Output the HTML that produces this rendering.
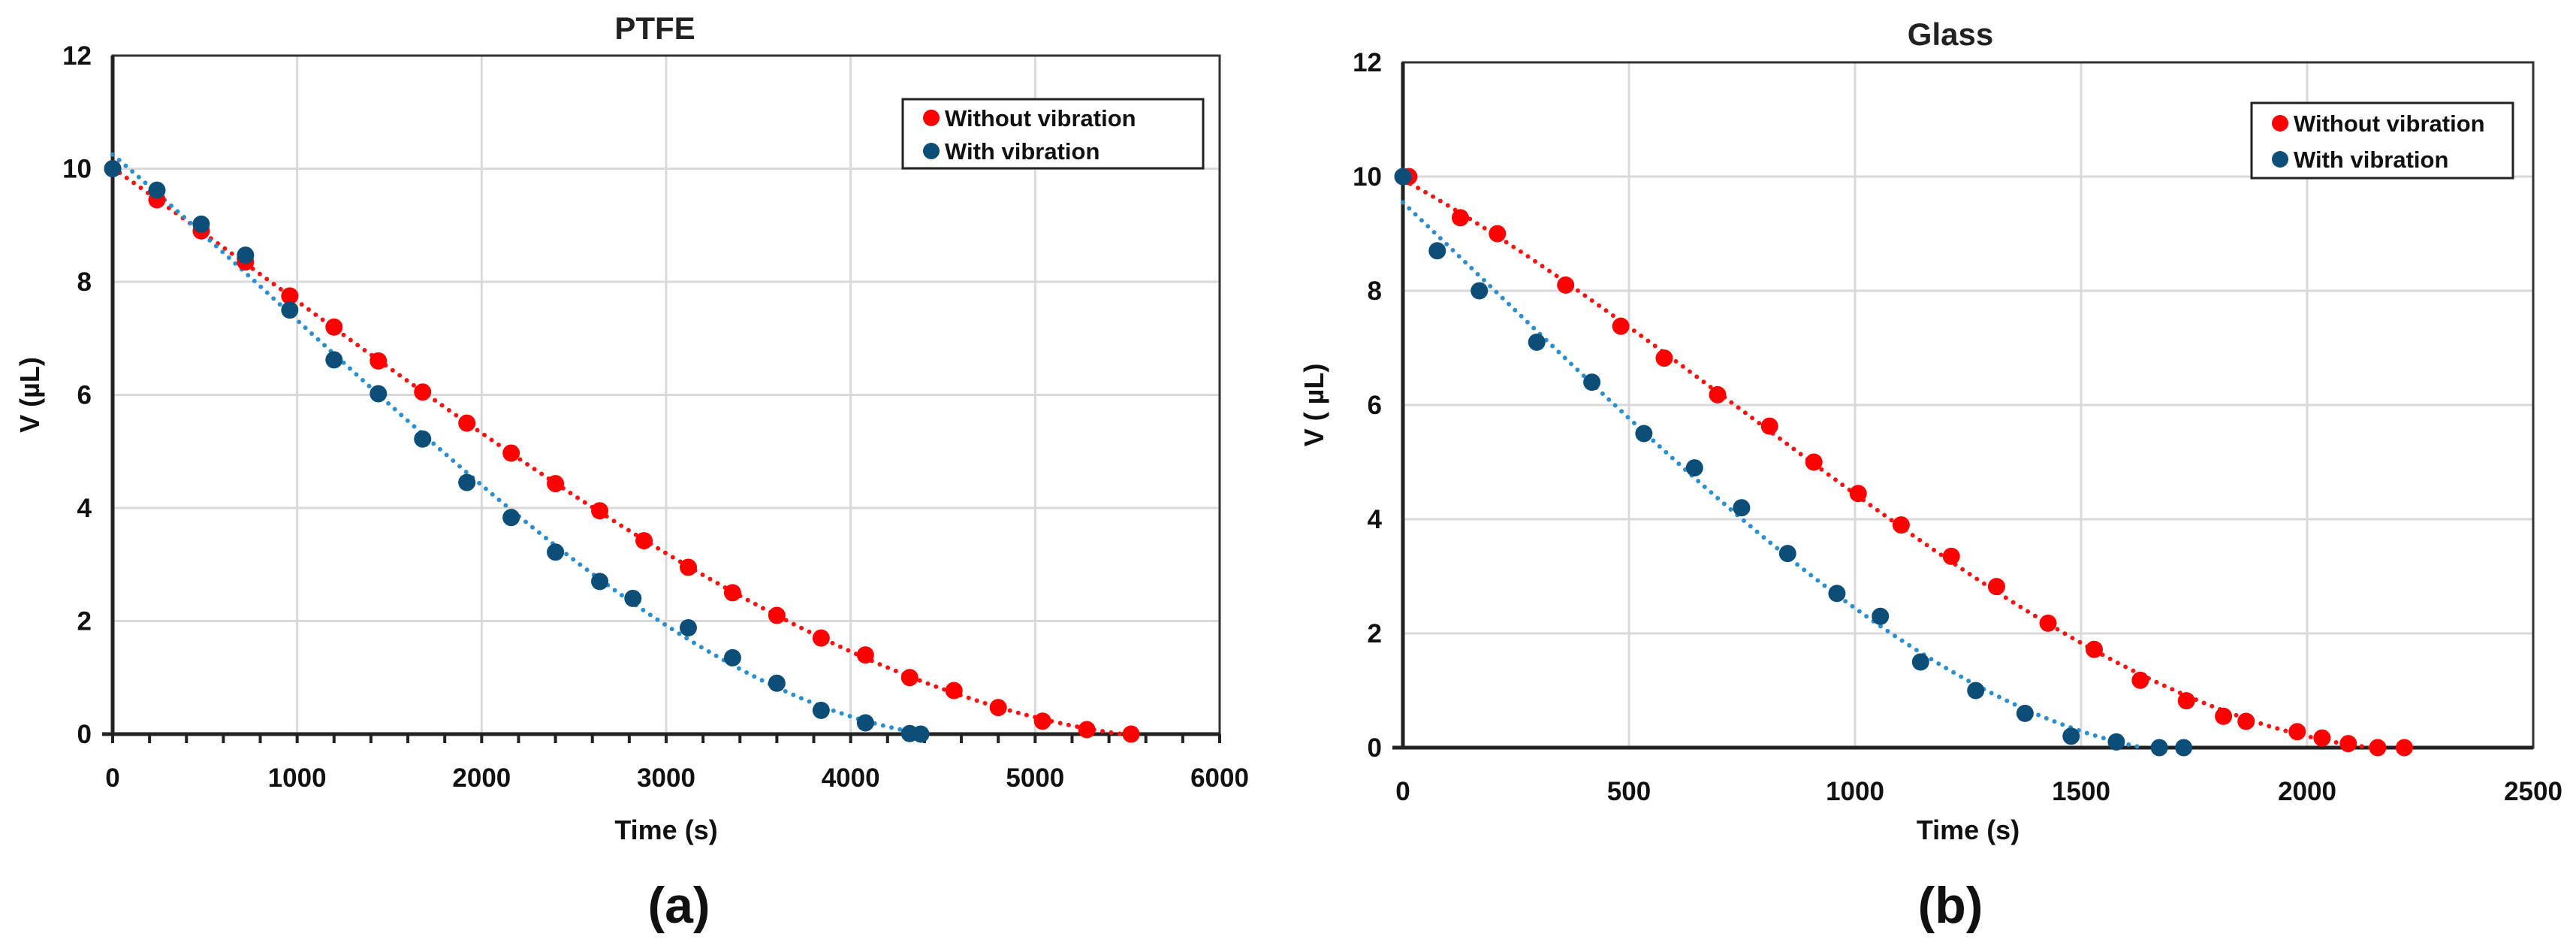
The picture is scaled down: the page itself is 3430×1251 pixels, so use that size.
<!DOCTYPE html>
<html><head><meta charset="utf-8"><style>
html,body{margin:0;padding:0;background:#fff;}
svg{display:block;font-family:"Liberation Sans",sans-serif;}
</style></head><body>
<svg id="fig" width="3430" height="1251" viewBox="0 0 3430 1251"></svg>
<script>
// PTFE (a)
const ptfeRedX=[0,240,480,720,960,1200,1440,1680,1920,2160,2400,2640,2880,3120,3360,3600,3840,4080,4320,4560,4800,5040,5280,5520];
const ptfeRedY=[10,9.45,8.9,8.35,7.75,7.2,6.6,6.05,5.5,4.97,4.43,3.95,3.42,2.95,2.5,2.1,1.7,1.4,1.0,0.77,0.47,0.23,0.08,0];
const ptfeBlueX=[0,240,480,720,960,1200,1440,1680,1920,2160,2400,2640,2820,3120,3360,3600,3840,4080,4320,4380];
const ptfeBlueY=[10,9.62,9.02,8.47,7.5,6.62,6.02,5.22,4.45,3.83,3.22,2.7,2.4,1.88,1.35,0.9,0.42,0.2,0.01,0];
const ptfeXTicks=[0,1000,2000,3000,4000,5000,6000];
const yTicks=[0,2,4,6,8,10,12];
// Glass (b)
const glassRedX=[13,127,209,360,482,578,696,811,909,1007,1102,1213,1313,1427,1529,1631,1733,1815,1865,1978,2033,2091,2156,2215];
const glassRedY=[10,9.28,9.0,8.1,7.38,6.82,6.18,5.63,5.0,4.45,3.9,3.35,2.82,2.18,1.72,1.18,0.82,0.55,0.46,0.28,0.17,0.07,0,0];
const glassBlueX=[0,76,169,296,418,533,645,749,851,960,1056,1145,1267,1376,1478,1578,1673,1727];
const glassBlueY=[10,8.7,8.0,7.1,6.4,5.5,4.9,4.2,3.4,2.7,2.3,1.5,1.0,0.6,0.2,0.1,0,0];
const glassXTicks=[0,500,1000,1500,2000,2500];

const NS="http://www.w3.org/2000/svg";
const svg=document.getElementById('fig');
function mk(tag,attrs,parent,text){const e=document.createElementNS(NS,tag);for(const k in attrs)e.setAttribute(k,attrs[k]);if(text!==undefined)e.textContent=text;(parent||svg).appendChild(e);return e;}

function fitPoly(xs,ys,deg){
  const n=deg+1, sc=Math.max(...xs);
  const A=[];for(let r=0;r<n;r++){A.push(new Array(n+1).fill(0));}
  for(let i=0;i<xs.length;i++){const u=xs[i]/sc;
    for(let r=0;r<n;r++){for(let c=0;c<n;c++)A[r][c]+=Math.pow(u,r+c);A[r][n]+=Math.pow(u,r)*ys[i];}}
  for(let c=0;c<n;c++){for(let r=c+1;r<n;r++){const f=A[r][c]/A[c][c];for(let k=c;k<=n;k++)A[r][k]-=f*A[c][k];}}
  const b=new Array(n).fill(0);
  for(let r=n-1;r>=0;r--){let s=A[r][n];for(let k=r+1;k<n;k++)s-=A[r][k]*b[k];b[r]=s/A[r][r];}
  return x=>{const u=x/sc;let s=0;for(let k=n-1;k>=0;k--)s=s*u+b[k];return s;};
}

function chart(cfg){
  const g=mk('g',{},svg);
  
  
  const X=v=>cfg.x0+(v-cfg.xmin)/(cfg.xmax-cfg.xmin)*(cfg.x1-cfg.x0);
  const Y=v=>cfg.y0-(v/12)*(cfg.y0-cfg.y1);
  cfg.xticks.forEach(t=>{const l=mk('line',{x1:X(t),x2:X(t),y1:cfg.y1,y2:cfg.y0,stroke:'#d9d9d9','stroke-width':3},g);
    });
  yTicks.forEach(t=>{const l=mk('line',{x1:cfg.x0,x2:cfg.x1,y1:Y(t),y2:Y(t),stroke:'#d9d9d9','stroke-width':3},g);
    });
  const b=mk('rect',{x:cfg.x0,y:cfg.y1,width:cfg.x1-cfg.x0,height:cfg.y0-cfg.y1,fill:'none',stroke:'#333','stroke-width':3},g);
  
  const ax=mk('line',{x1:cfg.x0-14,x2:cfg.x1,y1:cfg.y0,y2:cfg.y0,stroke:'#222','stroke-width':5},g);
  
  const ay=mk('line',{x1:cfg.x0,x2:cfg.x0,y1:cfg.y1,y2:cfg.y0,stroke:'#222','stroke-width':5},g);
  
  if(cfg.minor){for(let v=cfg.xmin;v<=cfg.xmax;v+=cfg.minor){const l=mk('line',{x1:X(v),x2:X(v),y1:cfg.y0,y2:cfg.y0+12,stroke:'#222','stroke-width':4},g);
    }}
  cfg.xticks.forEach(t=>{const e=mk('text',{x:X(t),y:cfg.y0+70,'text-anchor':'middle','font-size':35,'font-weight':'bold',fill:'#111'},g,String(t));
    });
  yTicks.forEach(t=>{const e=mk('text',{x:cfg.x0-28,y:Y(t)+12,'text-anchor':'end','font-size':35,'font-weight':'bold',fill:'#111'},g,String(t));
    });
  const tt=mk('text',{x:cfg.titleX,y:cfg.titleY,'text-anchor':'middle','font-size':42,'font-weight':'bold',fill:'#222'},g,cfg.title);
  
  const xt=mk('text',{x:(cfg.x0+cfg.x1)/2,y:1117,'text-anchor':'middle','font-size':36,'font-weight':'bold',fill:'#111'},g,'Time (s)');
  
  const yt=mk('text',{x:0,y:0,'text-anchor':'middle','font-size':36,'font-weight':'bold',fill:'#111',transform:`translate(${cfg.ylabX},${(cfg.y0+cfg.y1)/2}) rotate(-90)`},g,cfg.ylab);
  
  const pl=mk('text',{x:cfg.panelX,y:1228,'text-anchor':'middle','font-size':68,'font-weight':'bold',fill:'#111'},g,cfg.panel);
  
  cfg.series.forEach(s=>{
    const f=fitPoly(s.x,s.y,3);const xmax=Math.max(...s.x);let pts=[];
    for(let i=0;i<=200;i++){const v=xmax*i/200;const yv=f(v);pts.push(X(v).toFixed(1)+','+Y(Math.max(0,yv)).toFixed(1));if(yv<=0)break;}
    const tl=mk('polyline',{points:pts.join(' '),fill:'none',stroke:s.line,'stroke-width':6,'stroke-linecap':'round','stroke-dasharray':'0 11.5'},g);
    
  });
  cfg.series.forEach(s=>{
    s.x.forEach((v,i)=>{const c=mk('circle',{cx:X(v),cy:Y(s.y[i]),r:11.5,fill:s.color},g);
      });
  });
  const L=cfg.legend;
  const lg=mk('g',{},g);
  mk('rect',{x:L.x,y:L.y,width:L.w,height:L.h,fill:'#fff',stroke:'#222','stroke-width':3},lg);
  cfg.series.forEach((s,i)=>{
    const cy=L.y+L.h*0.27+i*L.h*0.48;
    const c=mk('circle',{cx:L.x+38,cy:cy,r:11,fill:s.color},lg);
    
    const t=mk('text',{x:L.x+56,y:cy+11,'font-size':31,'font-weight':'bold',fill:'#111'},lg,s.label);
    
  });
}

chart({name:'ptfe-chart',x0:150,x1:1624,y0:977,y1:74,xmin:0,xmax:6000,xticks:ptfeXTicks,minor:200,
  title:'PTFE',titleX:872,titleY:52,ylab:'V (µL)',ylabX:52,panel:'(a)',panelX:904,
  legend:{x:1202,y:132,w:400,h:92},
  series:[{key:'without-vibration',label:'Without vibration',x:ptfeRedX,y:ptfeRedY,color:'#ff0000',line:'#ff1010'},
          {key:'with-vibration',label:'With vibration',x:ptfeBlueX,y:ptfeBlueY,color:'#0d4e78',line:'#2a8fd0'}]});
chart({name:'glass-chart',x0:1868,x1:3373,y0:995,y1:83,xmin:0,xmax:2500,xticks:glassXTicks,minor:0,
  title:'Glass',titleX:2597,titleY:60,ylab:'V ( µL)',ylabX:1762,panel:'(b)',panelX:2597,
  legend:{x:2998,y:137,w:348,h:100},
  series:[{key:'without-vibration',label:'Without vibration',x:glassRedX,y:glassRedY,color:'#ff0000',line:'#ff1010'},
          {key:'with-vibration',label:'With vibration',x:glassBlueX,y:glassBlueY,color:'#0d4e78',line:'#2a8fd0'}]});
</script>
</body></html>
